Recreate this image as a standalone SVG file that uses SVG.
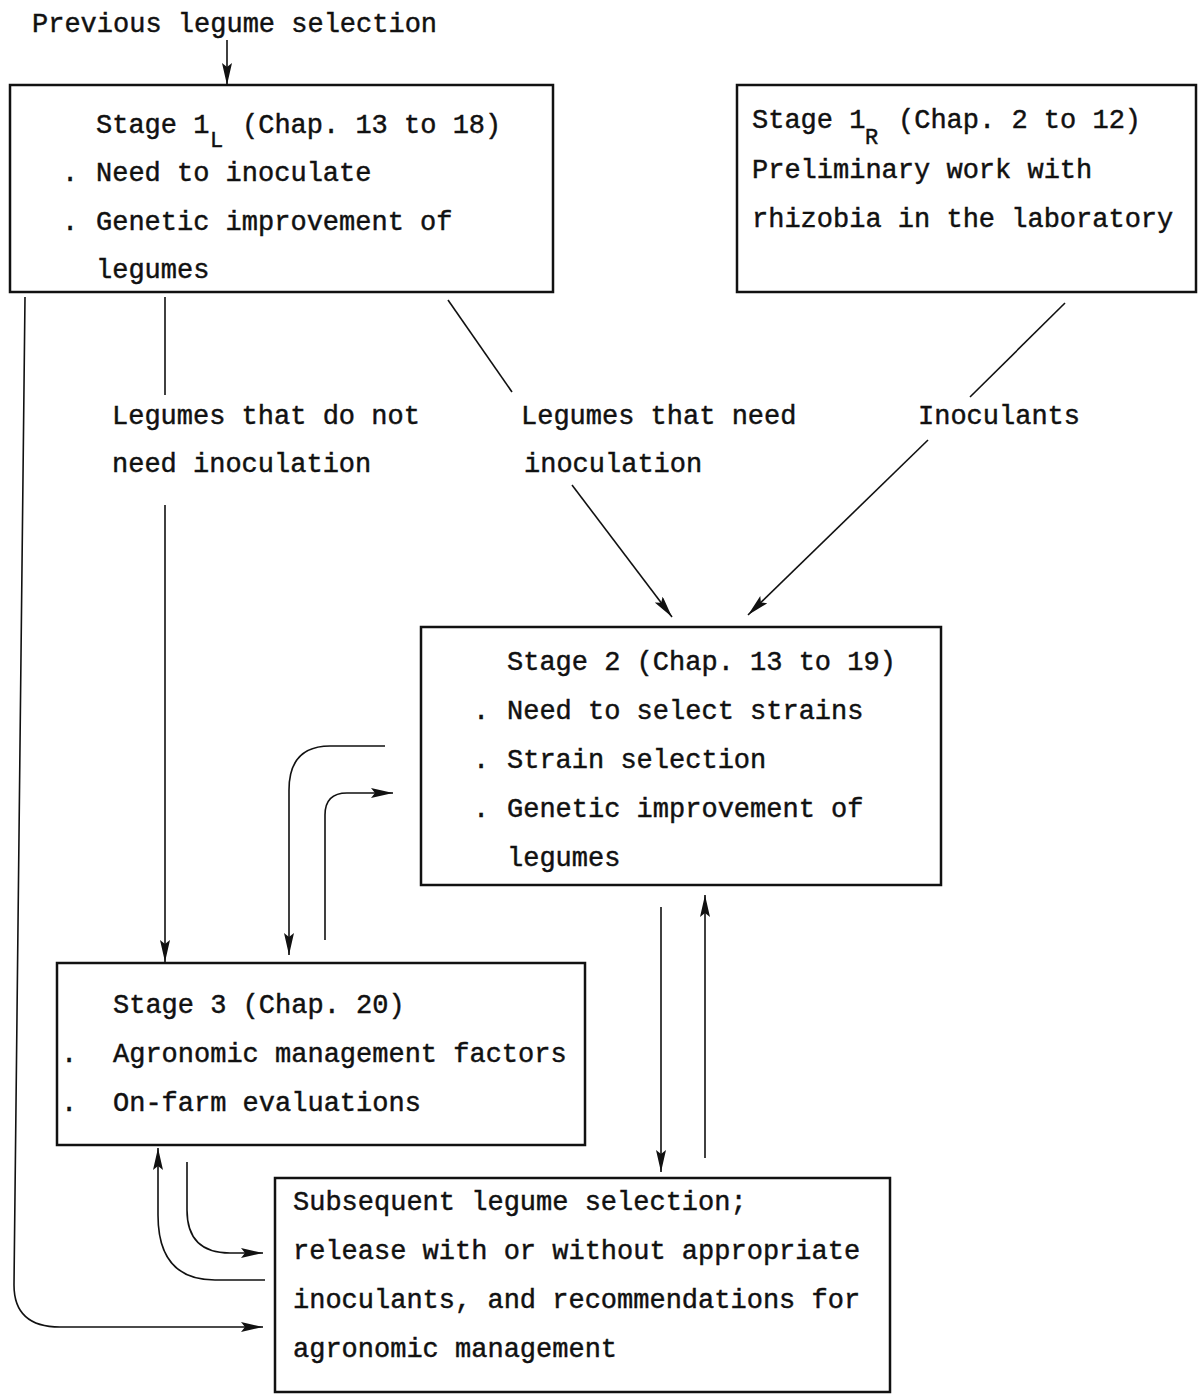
<svg xmlns="http://www.w3.org/2000/svg" width="1201" height="1396" viewBox="0 0 1201 1396">
<style>
text{font-family:"Liberation Mono","DejaVu Sans Mono",monospace;font-size:27px;fill:#111;stroke:#111;stroke-width:0.45}
.sub{font-size:22px}
.box{fill:none;stroke:#111;stroke-width:2.5}
.con{fill:none;stroke:#111;stroke-width:1.6}
.arr{marker-end:url(#ah)}
</style>
<defs>
<marker id="ah" markerUnits="userSpaceOnUse" markerWidth="24" markerHeight="12" refX="22" refY="5" orient="auto">
<path d="M0,0 L22,5 L0,10 L4,5 z" fill="#111"/>
</marker>
</defs>
<rect width="1201" height="1396" fill="#fff"/>
<text x="32" y="32">Previous legume selection</text>
<g id="stage1L">
<rect class="box" x="10" y="85" width="543" height="207"/>
<text x="96" y="133">Stage 1</text><text class="sub" x="210" y="147">L</text><text x="242" y="133">(Chap. 13 to 18)</text>
<text x="62" y="181">.</text><text x="96" y="181">Need to inoculate</text>
<text x="62" y="230">.</text><text x="96" y="230">Genetic improvement of</text>
<text x="96" y="278">legumes</text>
</g>
<g id="stage1R">
<rect class="box" x="737" y="85" width="459" height="207"/>
<text x="752" y="128">Stage 1</text><text class="sub" x="865" y="144">R</text><text x="898" y="128">(Chap. 2 to 12)</text>
<text x="752" y="178">Preliminary work with</text>
<text x="752" y="227">rhizobia in the laboratory</text>
</g>
<g id="labels">
<text x="112" y="424">Legumes that do not</text>
<text x="112" y="472">need inoculation</text>
<text x="521" y="424">Legumes that need</text>
<text x="524" y="472">inoculation</text>
<text x="918" y="424">Inoculants</text>
</g>
<g id="stage2">
<rect class="box" x="421" y="627" width="520" height="258"/>
<text x="507" y="670">Stage 2 (Chap. 13 to 19)</text>
<text x="473" y="719">.</text><text x="507" y="719">Need to select strains</text>
<text x="473" y="768">.</text><text x="507" y="768">Strain selection</text>
<text x="473" y="817">.</text><text x="507" y="817">Genetic improvement of</text>
<text x="507" y="866">legumes</text>
</g>
<g id="stage3">
<rect class="box" x="57" y="963" width="528" height="182"/>
<text x="113" y="1013">Stage 3 (Chap. 20)</text>
<text x="61" y="1062">.</text><text x="113" y="1062">Agronomic management factors</text>
<text x="61" y="1111">.</text><text x="113" y="1111">On-farm evaluations</text>
</g>
<g id="subsequent">
<rect class="box" x="275" y="1178" width="615" height="214"/>
<text x="293" y="1210">Subsequent legume selection;</text>
<text x="293" y="1259">release with or without appropriate</text>
<text x="293" y="1308">inoculants, and recommendations for</text>
<text x="293" y="1357">agronomic management</text>
</g>
<g id="connectors">
<path class="con arr" d="M227,40 V85"/>
<path class="con" d="M165,297 V395"/>
<path class="con arr" d="M165,505 V962"/>
<path class="con" d="M448,300 L512,392"/>
<path class="con arr" d="M572,485 L672,617"/>
<path class="con" d="M1065,303 L970,397"/>
<path class="con arr" d="M928,440 L748,615"/>
<path class="con arr" d="M385,746 H330 Q289,746 289,790 V955"/>
<path class="con arr" d="M325,940 V815 Q325,793 347,793 H393"/>
<path class="con arr" d="M661,907 V1172"/>
<path class="con arr" d="M705,1158 V895"/>
<path class="con arr" d="M265,1280 H215 Q158,1280 158,1215 V1148"/>
<path class="con arr" d="M187,1162 V1210 Q187,1253 230,1253 H263"/>
<path class="con arr" d="M25,297 L14,1285 Q14,1327 60,1327 H263"/>
</g>
</svg>
